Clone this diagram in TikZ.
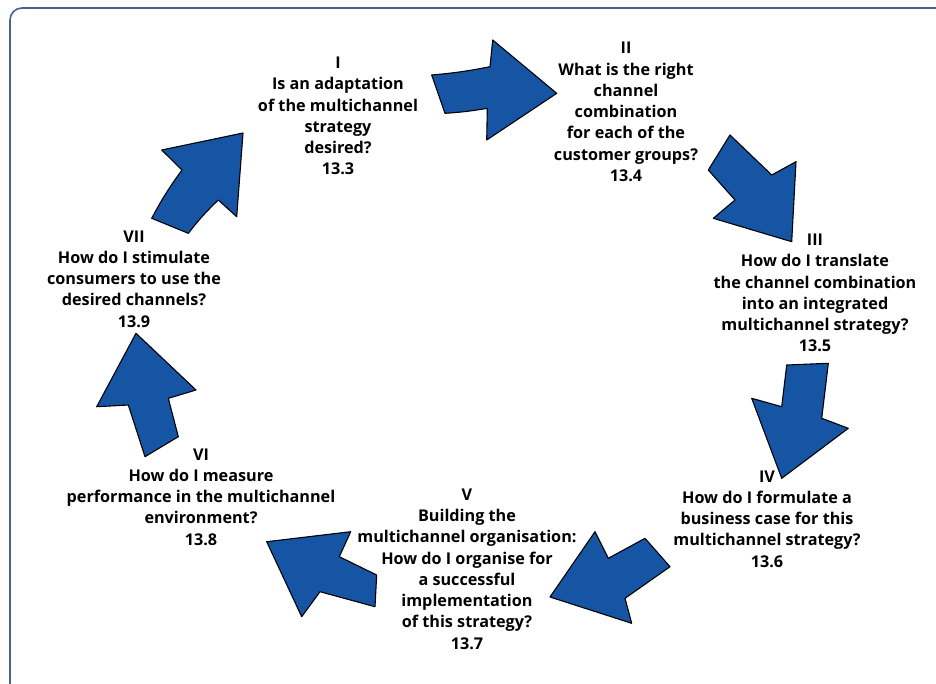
\documentclass[tikz,border=0pt]{standalone}
\usepackage{fontspec}
\setmainfont{Open Sans}
\definecolor{arrowblue}{RGB}{22,84,164}
\definecolor{frameblue}{RGB}{72,98,146}
\tikzset{
  bluearrow/.style={fill=arrowblue, draw=black, line width=1.1pt, line join=round},
  qtext/.style={align=center, inner sep=0pt, text=black,
    font={\fontsize{16.2}{21.3}\selectfont\bfseries}},
}
\begin{document}
\begin{tikzpicture}[x=1pt,y=-1pt]
\useasboundingbox (0,0) rectangle (936,683);
\fill[white] (0,0) rectangle (936,683);
\begin{scope}
\clip (0,0) rectangle (936,683);
\draw[frameblue, line width=1.6pt, rounded corners=12pt] (10,8) rectangle (960,705);
\end{scope}

% arrows
\draw[bluearrow] (243,133) -- (161.7,150) -- (182,170) to[bend right=4] (151.7,218.3) -- (188.3,233.3) to[bend left=4] (218.3,200) -- (236.7,216.7) -- cycle;
\draw[bluearrow] (431.7,75) to[bend right=3] (490,66.7) -- (492.7,40) -- (556.7,93.3) -- (486.7,140) -- (487.3,108.3) to[bend left=3] (445,113.3) -- cycle;
\draw[bluearrow] (730,135) -- (771.7,175) -- (796,161.7) -- (791.7,241.7) -- (713.3,218.3) -- (735,200) -- (708.3,170) -- cycle;
\draw[bluearrow] (786.7,365) -- (828.3,363.3) -- (821.7,418.3) -- (848.3,428.3) -- (781.7,478.3) -- (751.7,398.3) -- (781.7,406.7) -- cycle;
\draw[bluearrow] (595,531.7) -- (608.3,558.3) -- (645,538.3) -- (670,566.7) -- (625,598.3) -- (631.7,623.3) -- (550,597) -- cycle;
\draw[bluearrow] (266.7,541.7) -- (350.7,531.7) -- (339.3,556.7) -- (376.7,575) -- (375,606.7) -- (320,591.7) -- (301.7,616.7) -- cycle;
\draw[bluearrow] (136,333.3) -- (196,390) -- (168.3,398.3) -- (178.3,436.7) -- (145,456.7) -- (128.3,405) -- (96.7,406.7) -- cycle;

% texts
\node[qtext] (q1) at (338,116) {I\\Is an adaptation\\of the multichannel\\strategy\\desired?\\13.3};
\node[qtext] (q2) at (626,112) {II\\What is the right\\channel\\combination\\for each of the\\customer groups?\\13.4};
\node[qtext] (q3) at (815,293) {III\\How do I translate\\the channel combination\\into an integrated\\multichannel strategy?\\13.5};
\node[qtext] (q4) at (767,519) {IV\\How do I formulate a\\business case for this\\multichannel strategy?\\13.6};
\node[qtext] (q5) at (467,569) {V\\Building the\\multichannel organisation:\\How do I organise for\\a successful\\implementation\\of this strategy?\\13.7};
\node[qtext] (q6) at (201,497) {VI\\How do I measure\\performance in the multichannel\\environment?\\13.8};
\node[qtext] (q7) at (134,279) {VII\\How do I stimulate\\consumers to use the\\desired channels?\\13.9};
\end{tikzpicture}
\end{document}
